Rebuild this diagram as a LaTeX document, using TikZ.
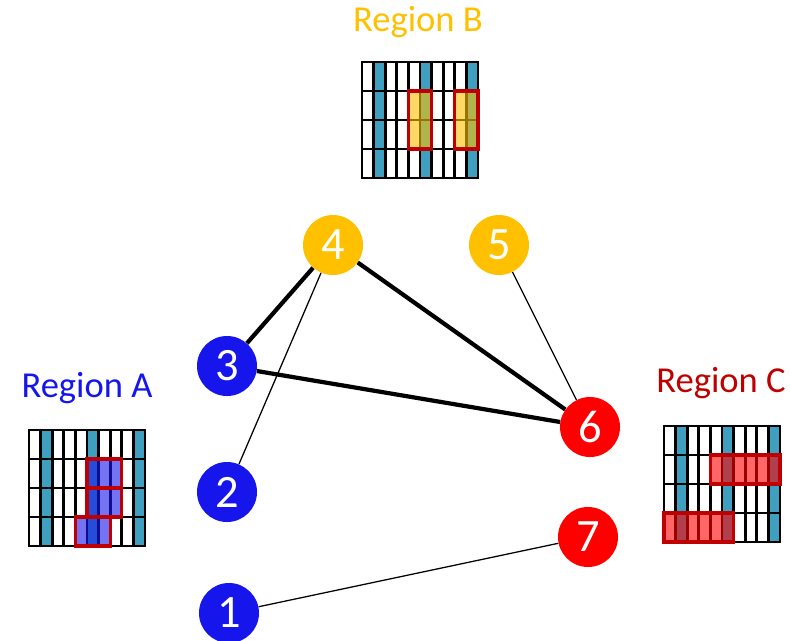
\documentclass[tikz,border=0pt]{standalone}
\usepackage{fontspec}
\setmainfont{Carlito}
\usetikzlibrary{positioning}
\definecolor{NodoAmarillo}{RGB}{255,192,0}
\definecolor{NodoAzul}{RGB}{22,22,236}
\definecolor{NodoRojo}{RGB}{255,0,0}
\definecolor{RojoOscuro}{RGB}{192,0,0}
\definecolor{Turquesa}{RGB}{62,160,190}
\tikzset{
  vertex/.style={circle, fill=#1, text=white, minimum size=1.5cm, inner sep=0pt,
    font=\fontsize{33}{33}\selectfont},
  strongedge/.style={line width=3pt},
  weakedge/.style={line width=0.9pt},
  regionlabel/.style={font=\fontsize{26}{28}\selectfont, text=#1},
  gridline/.style={line width=2pt},
  hlbox/.style={draw=RojoOscuro, line width=2.2pt, fill=#1, fill opacity=0.6},
  cellunits/.style={x=0.29cm, y=-0.725cm},
}
% rejilla de 10 columnas x 4 filas, en unidades de celda
\newcommand{\regiongrid}{%
  \foreach \c in {1,5,9} \fill[Turquesa] (\c,0) rectangle (\c+1,4);
  \foreach \c in {1,...,9} \draw[gridline] (\c,0) -- (\c,4);
  \foreach \r in {1,2,3} \draw[gridline] (0,\r) -- (10,\r);
  \draw[gridline] (0,0) rectangle (10,4);
}
\begin{document}
\begin{tikzpicture}[x=0.025cm, y=-0.025cm]
  \useasboundingbox (0,0) rectangle (790,640);

  % --- rejillas de las regiones ---
  \begin{scope}[shift={(362,62)}, cellunits]
    \regiongrid
    \draw[hlbox=NodoAmarillo] (4,1) rectangle (6,3);
    \draw[hlbox=NodoAmarillo] (8,1) rectangle (10,3);
  \end{scope}
  \begin{scope}[shift={(29,430)}, cellunits]
    \regiongrid
    \draw[hlbox=NodoAzul] (5,1) rectangle (8,2);
    \draw[hlbox=NodoAzul] (5,2) rectangle (8,3);
    \draw[hlbox=NodoAzul] (4,3) rectangle (7,4);
  \end{scope}
  \begin{scope}[shift={(664,426)}, cellunits]
    \regiongrid
    \draw[hlbox=NodoRojo] (4,1) rectangle (10,2);
    \draw[hlbox=NodoRojo] (0,3) rectangle (6,4);
  \end{scope}

  \node[regionlabel=NodoAmarillo] (regB) at (418,22) {Region B};
  \node[regionlabel=NodoAzul] (regA) at (87,388) {Region A};
  \node[regionlabel=RojoOscuro] (regC) at (721,383) {Region C};

  % --- grafo ---
  \node[vertex=NodoAmarillo] (n4) at (333,245) {4};
  \node[vertex=NodoAmarillo] (n5) at (499,245) {5};
  \node[vertex=NodoAzul] (n3) at (227,366) {3};
  \node[vertex=NodoAzul] (n2) at (227,492) {2};
  \node[vertex=NodoAzul] (n1) at (229,613) {1};
  \node[vertex=NodoRojo] (n6) at (590,427) {6};
  \node[vertex=NodoRojo] (n7) at (588,537) {7};

  \draw[strongedge] (n4) -- (n3);
  \draw[strongedge] (n4) -- (n6);
  \draw[strongedge] (n3) -- (n6);
  \draw[weakedge] (n4) -- (n2);
  \draw[weakedge] (n5) -- (n6);
  \draw[weakedge] (n1) -- (n7);
\end{tikzpicture}
\end{document}
